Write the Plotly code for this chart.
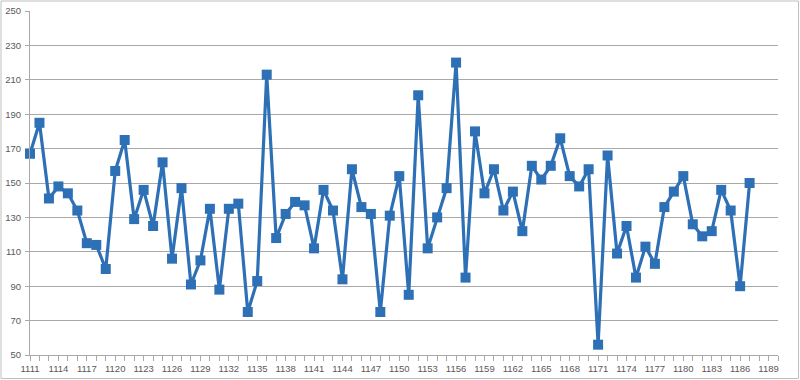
import plotly.graph_objects as go

years = list(range(1111, 1188))
values = [167, 185, 141, 148, 144, 134, 115, 114, 100, 157,
          175, 129, 146, 125, 162, 106, 147, 91, 105, 135,
          88, 135, 138, 75, 93, 213, 118, 132, 139, 137,
          112, 146, 134, 94, 158, 136, 132, 75, 131, 154,
          85, 201, 112, 130, 147, 220, 95, 180, 144, 158,
          134, 145, 122, 160, 152, 160, 176, 154, 148, 158,
          56, 166, 109, 125, 95, 113, 103, 136, 145, 154,
          126, 119, 122, 146, 134, 90, 150]
x_first, x_last = 1111, 1190
x_tick_labels = list(range(1111, 1190, 3))
y_ticks = list(range(50, 251, 20))

BLUE = "#2E70B6"
GRID = "#A9A9A9"
TXT = "#595959"

fig = go.Figure(go.Scatter(
    x=years, y=values, mode="lines+markers",
    line=dict(color=BLUE, width=3.2),
    marker=dict(symbol="square", size=10, color=BLUE),
    hoverinfo="x+y", cliponaxis=False,
))

fig.update_layout(
    width=800, height=380,
    margin=dict(l=30, r=22, t=11, b=25, autoexpand=False),
    paper_bgcolor="white", plot_bgcolor="white",
    showlegend=False,
    font=dict(family="Liberation Sans, Arial, sans-serif", size=9.5, color=TXT),
    xaxis=dict(
        range=[x_first, x_last], automargin=False,
        tickmode="array", tickvals=x_tick_labels,
        ticktext=[str(v) for v in x_tick_labels],
        ticks="outside", ticklen=5, tickcolor=GRID, tickwidth=1,
        minor=dict(dtick=1, tick0=x_first, ticks="outside", ticklen=5,
                   tickcolor=GRID, tickwidth=1, showgrid=False),
        showgrid=False, showline=True, linecolor=GRID, linewidth=1,
        zeroline=False, fixedrange=True,
    ),
    yaxis=dict(
        range=[50, 250], tickmode="array", tickvals=y_ticks, automargin=False,
        ticks="outside", ticklen=4, tickcolor=GRID,
        showgrid=True, gridcolor=GRID, gridwidth=1,
        showline=True, linecolor=GRID, linewidth=1,
        zeroline=False, fixedrange=True, ticklabelstandoff=2,
    ),
    shapes=[dict(type="rect", xref="paper", yref="paper",
                 x0=(1 - 30) / 748, x1=(798.5 - 30) / 748,
                 y0=(355 - 378.5) / 344, y1=(355 - 1) / 344,
                 line=dict(color="#BFBFBF", width=1), layer="below")],
)

fig.write_html("out.html", config={"displayModeBar": False},
               post_script="document.body.style.margin='0';document.body.style.overflow='hidden';")
